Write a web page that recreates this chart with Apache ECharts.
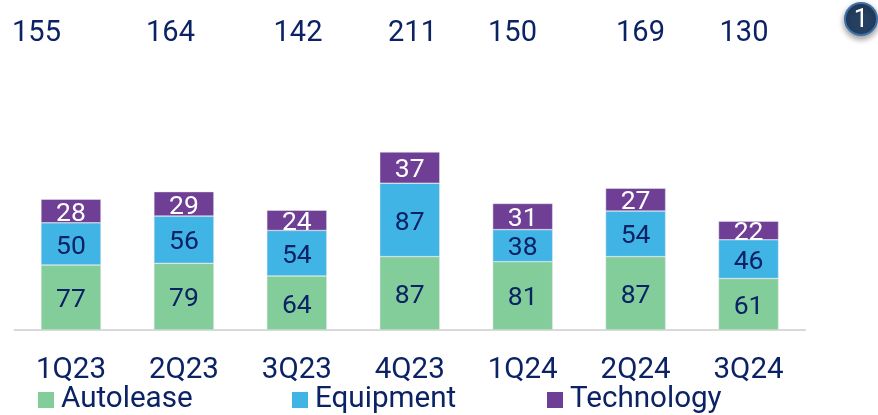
<!DOCTYPE html>
<html>
<head>
<meta charset="utf-8">
<script src="https://cdn.jsdelivr.net/npm/echarts@6/dist/echarts.min.js"></script>
<style>
    html, body { margin: 0; padding: 0; background: #fff; }
    #chart { width: 878px; height: 415px; }
</style>
</head>
<body>
<div id="chart"></div>
<script>
const quarters = ["1Q23", "2Q23", "3Q23", "4Q23", "1Q24", "2Q24", "3Q24"];
const autolease = [77, 79, 64, 87, 81, 87, 61];
const equipment = [50, 56, 54, 87, 38, 54, 46];
const technology = [28, 29, 24, 37, 31, 27, 22];
const totals = [155, 164, 142, 211, 150, 169, 130];

// the totals row does not line up with the bars in the original
const totalCenters = [36.5, 170.5, 298, 412.5, 512.5, 640.5, 744];

const navy = "#0b2265";
const font = "Roboto";

const makeSeries = (name, data, color, labelColor) => ({
    name,
    type: "bar",
    stack: "total",
    barWidth: 60,
    data,
    itemStyle: { color, borderColor: "#e6e6ea", borderWidth: 0.5 },
    label: {
        show: true,
        position: "inside",
        offset: [0, 3],
        color: labelColor,
        fontFamily: font,
        fontSize: 26.5,
    },
});

const makeLegend = (name, left) => ({
    data: [{ name, icon: "rect" }],
    left,
    top: 385,
    padding: 0,
    itemWidth: 16,
    itemHeight: 16,
    itemGap: 9,
    itemStyle: { borderWidth: 0 },
    textStyle: { color: navy, fontFamily: font, fontSize: 29.6, padding: [4, 0, 0, 2] },
});

const chart = echarts.init(document.getElementById("chart"));
chart.setOption({
    animation: false,
    grid: { left: 14.5, width: 790.5, top: 152, height: 178 },
    xAxis: {
        type: "category",
        data: quarters,
        axisLine: { lineStyle: { color: "#d9d9d9", width: 2 } },
        axisTick: { show: false },
        axisLabel: { color: navy, fontFamily: font, fontSize: 29.5, margin: 26 },
    },
    yAxis: { type: "value", min: 0, max: 211, show: false },
    legend: [
        makeLegend("Autolease", 38),
        makeLegend("Equipment", 292),
        makeLegend("Technology", 547),
    ],
    series: [
        makeSeries("Autolease", autolease, "#82cd9a", navy),
        makeSeries("Equipment", equipment, "#41b4e6", navy),
        makeSeries("Technology", technology, "#6f3f96", "#ffffff"),
    ],
    graphic: [
        ...totals.map((value, i) => ({
            type: "text",
            x: totalCenters[i],
            y: 34,
            style: {
                text: String(value),
                fill: navy,
                font: `29px ${font}`,
                align: "center",
                verticalAlign: "middle",
            },
        })),
        {
            type: "circle",
            shape: { cx: 861, cy: 19, r: 16 },
            style: {
                fill: "#254061",
                stroke: "#3f6fa8",
                lineWidth: 2,
                shadowBlur: 6,
                shadowOffsetY: 3,
                shadowColor: "rgba(0,0,0,0.4)",
            },
        },
        {
            type: "text",
            x: 861,
            y: 20,
            style: {
                text: "1",
                fill: "#ffffff",
                font: `26px ${font}`,
                align: "center",
                verticalAlign: "middle",
            },
        },
    ],
});
</script>
</body>
</html>
